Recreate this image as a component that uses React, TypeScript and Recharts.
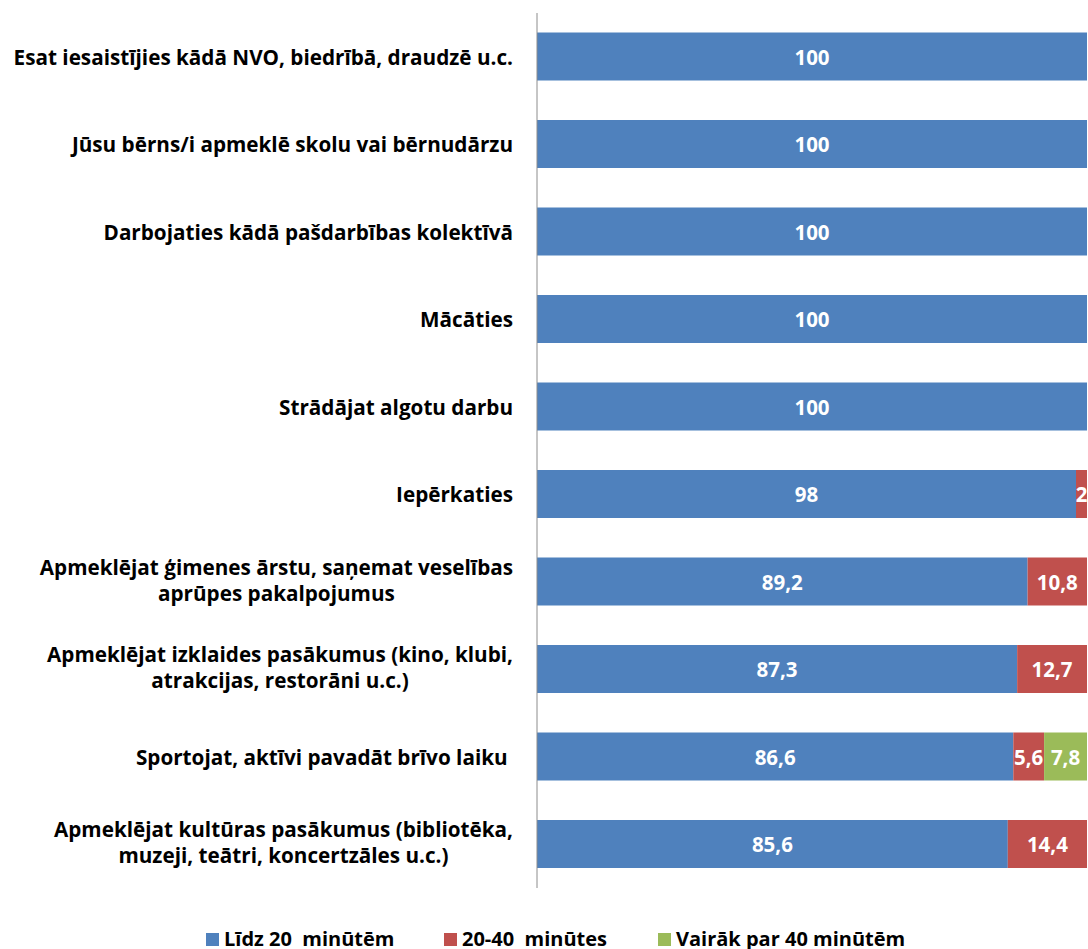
import React from 'react';
import { BarChart, Bar, XAxis, YAxis, LabelList, Legend } from 'recharts';

const categories: string[][] = [
  ['Esat iesaistījies kādā NVO, biedrībā, draudzē u.c.'],
  ['Jūsu bērns/i apmeklē skolu vai bērnudārzu'],
  ['Darbojaties kādā pašdarbības kolektīvā'],
  ['Mācāties'],
  ['Strādājat algotu darbu'],
  ['Iepērkaties'],
  ['Apmeklējat ģimenes ārstu, saņemat veselības', 'aprūpes pakalpojumus'],
  ['Apmeklējat izklaides pasākumus (kino, klubi,', 'atrakcijas, restorāni u.c.)'],
  ['Sportojat, aktīvi pavadāt brīvo laiku '],
  ['Apmeklējat kultūras pasākumus (bibliotēka,', 'muzeji, teātri, koncertzāles u.c.)'],
];

const under20: number[] = [100, 100, 100, 100, 100, 98, 89.2, 87.3, 86.6, 85.6];
const from20to40: number[] = [0, 0, 0, 0, 0, 2, 10.8, 12.7, 5.6, 14.4];
const over40: number[] = [0, 0, 0, 0, 0, 0, 0, 0, 7.8, 0];

const seriesNames = ['Līdz 20  minūtēm', '20-40  minūtes', 'Vairāk par 40 minūtēm'];
const seriesColors = ['#4F81BD', '#C0504D', '#9BBB59'];

const data = categories.map((c, i) => ({
  key: String(i),
  a: under20[i],
  b: from20to40[i],
  c: over40[i],
}));

const FONT = '"Open Sans", "Noto Sans", sans-serif';

let ctx: CanvasRenderingContext2D | null = null;
function measure(text: string, size: number): number {
  if (!ctx) {
    const cv = document.createElement('canvas');
    ctx = cv.getContext('2d');
  }
  if (!ctx) return text.length * size * 0.55;
  ctx.font = `bold ${size}px "Open Sans"`;
  return ctx.measureText(text).width;
}

const TICK_SIZE = 20.7;
const LINE_H = 26;

const CategoryTick = (props: any) => {
  const { y, payload } = props;
  const idx = Number(payload.value);
  const lines = categories[idx] || [];
  const right = 513;
  const widths = lines.map((l) => measure(l, TICK_SIZE));
  const maxW = Math.max(...widths);
  const cx = right - maxW / 2;
  const startY = y - ((lines.length - 1) * LINE_H) / 2 - (lines.length > 1 ? 2 : 0);
  return (
    <g>
      {lines.map((l, i) => (
        <text
          key={i}
          x={lines.length > 1 ? cx : right}
          y={startY + i * LINE_H}
          textAnchor={lines.length > 1 ? 'middle' : 'end'}
          dominantBaseline="central"
          fontFamily={FONT}
          fontWeight="bold"
          fontSize={TICK_SIZE}
          fill="#000"
          style={{ whiteSpace: 'pre' }}
        >
          {l}
        </text>
      ))}
    </g>
  );
};

const fmt = (v: number) => String(v).replace('.', ',');

const ValueLabel = (props: any) => {
  const { x, y, width, height, value } = props;
  if (!value) return null;
  return (
    <text
      x={x + width / 2}
      y={y + height / 2}
      textAnchor="middle"
      dominantBaseline="central"
      fontFamily={FONT}
      fontWeight="bold"
      fontSize={20.5}
      fill="#fff"
    >
      {fmt(value)}
    </text>
  );
};

const legendLefts = [206, 444, 658];

const LegendContent = () => (
  <div style={{ position: 'relative', width: 1088, height: 20 }}>
    {seriesNames.map((n, i) => (
      <div key={n} style={{ position: 'absolute', left: legendLefts[i], top: 0, height: 20, display: 'flex', alignItems: 'center' }}>
        <span style={{ display: 'inline-block', width: 13, height: 13, background: seriesColors[i], marginRight: 5 }} />
        <span style={{ fontFamily: FONT, fontWeight: 'bold', fontSize: 20, lineHeight: '20px', color: '#000', whiteSpace: 'pre' }}>{n}</span>
      </div>
    ))}
  </div>
);

export default function App() {
  return (
    <div style={{ position: 'absolute', left: 0, top: 0, width: 1088, height: 949, background: '#fff' }}>
      <BarChart
        width={1088}
        height={949}
        data={data}
        layout="vertical"
        margin={{ top: 13, right: 1, left: 0, bottom: 41 }}
        barCategoryGap="22.3%"
      >
        <XAxis type="number" domain={[0, 100]} hide />
        <YAxis
          type="category"
          dataKey="key"
          width={537}
          tick={<CategoryTick />}
          tickLine={false}
          axisLine={{ stroke: '#8C8C8C', strokeWidth: 1 }}
          interval={0}
        />
        <Legend
          content={<LegendContent />}
          wrapperStyle={{ top: 929, left: 0, bottom: 'auto', width: 1088, height: 20 }}
        />
        <Bar dataKey="a" name={seriesNames[0]} stackId="s" fill={seriesColors[0]} isAnimationActive={false}>
          <LabelList dataKey="a" content={<ValueLabel />} />
        </Bar>
        <Bar dataKey="b" name={seriesNames[1]} stackId="s" fill={seriesColors[1]} isAnimationActive={false}>
          <LabelList dataKey="b" content={<ValueLabel />} />
        </Bar>
        <Bar dataKey="c" name={seriesNames[2]} stackId="s" fill={seriesColors[2]} isAnimationActive={false}>
          <LabelList dataKey="c" content={<ValueLabel />} />
        </Bar>
      </BarChart>
    </div>
  );
}
